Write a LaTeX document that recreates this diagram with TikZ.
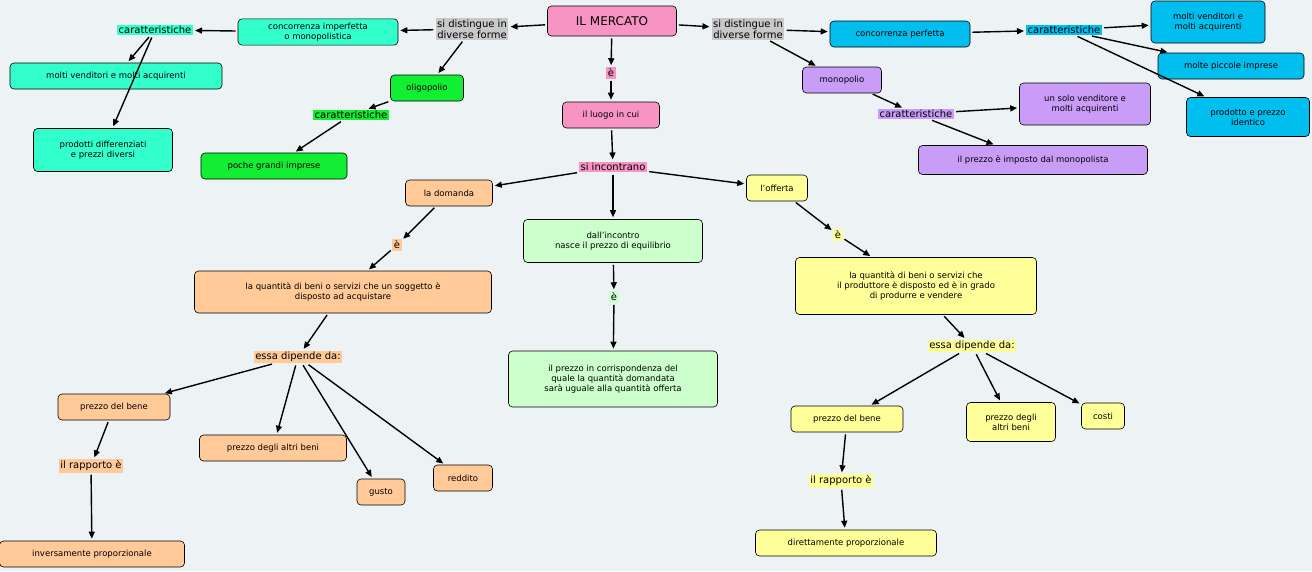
\documentclass[tikz,border=0pt]{standalone}
\usepackage{fontspec}
\setmainfont{DejaVu Sans}
\usetikzlibrary{arrows.meta}
\definecolor{bg}{HTML}{EDF3F4}
\definecolor{cpink}{HTML}{F794C4}
\definecolor{cteal}{HTML}{33FFCC}
\definecolor{cgreen}{HTML}{11EE33}
\definecolor{corange}{HTML}{FFC998}
\definecolor{clgreen}{HTML}{CCFFCC}
\definecolor{cyellow}{HTML}{FFFF99}
\definecolor{cblue}{HTML}{00BFEE}
\definecolor{cpurple}{HTML}{C99CF8}
\definecolor{cgray}{HTML}{C8C8C8}
\begin{document}
\begin{tikzpicture}[x=1pt,y=-1pt,
 c/.style={draw=black,line width=0.6pt,rounded corners=4pt,fill=#1,align=center,font=\fontsize{8.5}{10}\selectfont,inner sep=4pt,minimum height=26pt},
 l/.style={fill=#1,align=center,font=\fontsize{10}{11}\selectfont,inner sep=1.5pt},
 a/.style={-{Triangle[length=7pt,width=6pt]},line width=1.4pt,shorten >=2pt,shorten <=2pt}]
\fill[bg] (0,0) rectangle (1312,571);
\useasboundingbox (0,0) rectangle (1312,571);
\node[c=cpink,font=\fontsize{12}{14}\selectfont,minimum width=129pt,minimum height=30pt] (M) at (612,21) {IL MERCATO};
\node[l=cgray] (sdL) at (472,29) {si distingue in\\diverse forme};
\node[l=cgray] (sdR) at (748,29) {si distingue in\\diverse forme};
\node[c=cteal,minimum width=160pt] (ci) at (318,32) {concorrenza imperfetta\\o monopolistica};
\node[l=cteal] (kL) at (155,30) {caratteristiche};
\node[c=cteal,minimum width=212pt] (mvL) at (116,76) {molti venditori e molti acquirenti};
\node[c=cteal,minimum width=139pt,minimum height=43pt] (pd) at (103,150) {prodotti differenziati\\e prezzi diversi};
\node[c=cgreen,minimum width=73pt] (ol) at (427,88) {oligopolio};
\node[l=cgreen] (kG) at (351,115) {caratteristiche};
\node[c=cgreen,minimum width=146pt] (pg) at (274,166) {poche grandi imprese};
\node[l=cpink] (e1) at (611,73) {è};
\node[c=cpink,minimum width=97pt] (lu) at (611,115) {il luogo in cui};
\node[l=cpink] (si) at (613,167) {si incontrano};
\node[c=corange,minimum width=87pt] (do) at (449,193) {la domanda};
\node[l=corange] (e2) at (397,245) {è};
\node[c=corange,minimum width=297pt,minimum height=42pt] (qd) at (343,292) {la quantità di beni o servizi che un soggetto è\\disposto ad acquistare};
\node[l=corange] (ed) at (298,357) {essa dipende da:};
\node[c=corange,minimum width=112pt] (pb) at (114,407) {prezzo del bene};
\node[l=corange] (ra) at (91,466) {il rapporto è};
\node[c=corange,minimum width=185pt] (in) at (92,554) {inversamente proporzionale};
\node[c=corange,minimum width=147pt] (ab) at (273,448) {prezzo degli altri beni};
\node[c=corange,minimum width=48pt] (gu) at (381,492) {gusto};
\node[c=corange,minimum width=59pt] (re) at (463,478) {reddito};
\node[c=clgreen,minimum width=179pt,minimum height=43pt] (di) at (613,241) {dall'incontro\\nasce il prezzo di equilibrio};
\node[l=clgreen] (e3) at (614,297) {è};
\node[c=clgreen,minimum width=209pt,minimum height=56pt] (pc) at (613,379) {il prezzo in corrispondenza del\\quale la quantità domandata\\sarà uguale alla quantità offerta};
\node[c=cyellow,minimum width=61pt] (of) at (777,188) {l'offerta};
\node[l=cyellow] (e4) at (838,235) {è};
\node[c=cyellow,minimum width=241pt,minimum height=57pt] (qo) at (916,286) {la quantità di beni o servizi che\\il produttore è disposto ed è in grado\\di produrre e vendere};
\node[l=cyellow] (eo) at (972,346) {essa dipende da:};
\node[c=cyellow,minimum width=112pt] (pb2) at (847,419) {prezzo del bene};
\node[l=cyellow] (ra2) at (841,481) {il rapporto è};
\node[c=cyellow,minimum width=181pt] (dp) at (846,543) {direttamente proporzionale};
\node[c=cyellow,minimum width=89pt,minimum height=39pt] (ab2) at (1011,422) {prezzo degli\\altri beni};
\node[c=cyellow,minimum width=43pt] (co) at (1103,416) {costi};
\node[c=cblue,minimum width=140pt] (cp) at (900,34) {concorrenza perfetta};
\node[l=cblue] (kB) at (1064,30) {caratteristiche};
\node[c=cblue,minimum width=114pt,minimum height=42pt] (mvB) at (1208,22) {molti venditori e\\molti acquirenti};
\node[c=cblue,minimum width=146pt] (mp) at (1231,66) {molte piccole imprese};
\node[c=cblue,minimum width=123pt,minimum height=39pt] (pi) at (1248,117) {prodotto e prezzo\\identico};
\node[c=cpurple,minimum width=79pt] (mo) at (842,80) {monopolio};
\node[l=cpurple] (kP) at (916,114) {caratteristiche};
\node[c=cpurple,minimum width=131pt,minimum height=42pt] (us) at (1085,104) {un solo venditore e\\molti acquirenti};
\node[c=cpurple,minimum width=229pt,minimum height=29pt] (im) at (1033,160) {il prezzo è imposto dal monopolista};
\draw[a] (M)--(sdL); \draw[a] (sdL)--(ci); \draw[a] (M)--(sdR); \draw[a] (sdR)--(cp);
\draw[a] (sdL)--(ol); \draw[a] (sdR)--(mo);
\draw[a] (ci)--(kL); \draw[a] (kL)--(mvL); \draw[a] (kL)--(pd);
\draw[a] (ol)--(kG); \draw[a] (kG)--(pg);
\draw[a] (M)--(e1); \draw[a] (e1)--(lu); \draw[a] (lu)--(si);
\draw[a] (si)--(do); \draw[a] (si)--(di); \draw[a] (si)--(of);
\draw[a] (do)--(e2); \draw[a] (e2)--(qd); \draw[a] (qd)--(ed);
\draw[a] (ed)--(pb); \draw[a] (ed)--(ab); \draw[a] (ed)--(gu); \draw[a] (ed)--(re);
\draw[a] (pb)--(ra); \draw[a] (ra)--(in);
\draw[a] (di)--(e3); \draw[a] (e3)--(pc);
\draw[a] (of)--(e4); \draw[a] (e4)--(qo); \draw[a] (qo)--(eo);
\draw[a] (eo)--(pb2); \draw[a] (eo)--(ab2); \draw[a] (eo)--(co);
\draw[a] (pb2)--(ra2); \draw[a] (ra2)--(dp);
\draw[a] (cp)--(kB); \draw[a] (kB)--(mvB); \draw[a] (kB)--(mp); \draw[a] (kB)--(pi);
\draw[a] (mo)--(kP); \draw[a] (kP)--(us); \draw[a] (kP)--(im);
\end{tikzpicture}
\end{document}
